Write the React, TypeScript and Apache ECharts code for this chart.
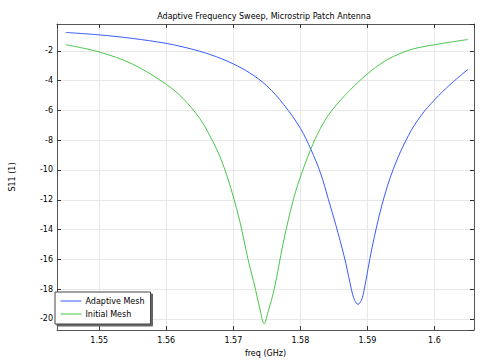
import React, { useEffect, useRef } from "react";
import * as echarts from "echarts";

const title = "Adaptive Frequency Sweep, Microstrip Patch Antenna";
const xName = "freq (GHz)";
const yName = "S11 (1)";
const seriesNames = ["Adaptive Mesh", "Initial Mesh"];

const freqAdaptive = [
  1.545, 1.55, 1.555, 1.56, 1.5625, 1.565, 1.5675, 1.57, 1.5725, 1.575, 1.5775, 1.58,
  1.5816, 1.583, 1.5842, 1.5856, 1.5868, 1.5876, 1.5881, 1.5886, 1.5891, 1.5895,
  1.5907, 1.5922, 1.5939, 1.5961, 1.598, 1.6, 1.6025, 1.605,
];
const s11Adaptive = [
  -0.77, -0.93, -1.17, -1.5, -1.74, -2.03, -2.4, -2.88, -3.5, -4.35, -5.6, -7.2,
  -8.65, -10.2, -12.0, -14.2, -16.3, -18.0, -18.75, -19.02, -18.75, -18.07,
  -15.2, -12.3, -9.9, -7.7, -6.35, -5.3, -4.2, -3.25,
];

const freqInitial = [
  1.545, 1.55, 1.555, 1.56, 1.5625, 1.565, 1.5665, 1.568, 1.5692, 1.57, 1.571, 1.5722,
  1.5733, 1.574, 1.5746, 1.5752, 1.5761, 1.5774, 1.5785, 1.5796, 1.5816, 1.583,
  1.5847, 1.5875, 1.59, 1.5925, 1.5953, 1.5975, 1.6, 1.6025, 1.605,
];
const s11Initial = [
  -1.59, -2.08, -2.9, -4.25, -5.2, -6.55, -7.7, -9.1, -10.6, -11.8, -13.5, -16.0,
  -18.0, -19.4, -20.33, -19.5, -18.0, -15.0, -12.8, -11.0, -8.56, -7.2,
  -6.0, -4.6, -3.55, -2.72, -2.1, -1.8, -1.59, -1.41, -1.24,
];

const colors = ["#3a5cff", "#4cc64c"];

const X_MIN = 1.5437;
const X_MAX = 1.6059;
const Y_MIN = -20.75;
const Y_MAX = -0.2;

export default function App() {
  const ref = useRef<HTMLDivElement>(null);
  useEffect(() => {
    if (!ref.current) return;
    const chart = echarts.init(ref.current, null, { renderer: "svg" });
    const font = "DejaVu Sans";
    const frame = { show: true, onZero: false, lineStyle: { color: "#555", width: 1 } };
    const tick = { show: true, inside: true, length: 4, lineStyle: { color: "#333" } };
    const split = { show: true, lineStyle: { color: "#e8e8e8", width: 1 } };
    chart.setOption({
      animation: false,
      backgroundColor: "#fff",
      textStyle: { fontFamily: font },
      title: {
        text: title,
        left: 259,
        top: 7,
        textAlign: "center",
        textStyle: { fontFamily: font, fontSize: 8, fontWeight: "normal", color: "#000" },
      },
      grid: { left: 45, right: 8, top: 24, bottom: 27, containLabel: false },
      legend: {
        orient: "vertical",
        left: 55,
        top: 292,
        padding: [5, 6, 6, 5],
        itemWidth: 21,
        itemHeight: 10,
        itemGap: 5,
        borderColor: "#444",
        borderWidth: 1,
        backgroundColor: "#fff",
        shadowColor: "#666",
        shadowOffsetX: 2,
        shadowOffsetY: 2,
        shadowBlur: 0,
        itemStyle: { opacity: 0 },
        lineStyle: { width: 1 },
        textStyle: { fontFamily: font, fontSize: 8, color: "#000", padding: [0, 0, 0, -1] },
        data: seriesNames,
      },
      xAxis: [
        {
          type: "value",
          min: X_MIN,
          max: X_MAX,
          splitNumber: 6,
          position: "bottom",
          name: xName,
          nameLocation: "middle",
          nameGap: 13,
          nameTextStyle: { fontFamily: font, fontSize: 8, color: "#000" },
          axisLine: frame,
          axisTick: tick,
          splitLine: split,
          axisLabel: {
            fontFamily: font,
            fontSize: 8,
            color: "#000",
            margin: 6,
            showMinLabel: false,
            showMaxLabel: false,
          },
        },
        {
          type: "value",
          min: X_MIN,
          max: X_MAX,
          splitNumber: 6,
          position: "top",
          axisLine: frame,
          axisTick: tick,
          splitLine: { show: false },
          axisLabel: { show: false },
        },
      ],
      yAxis: [
        {
          type: "value",
          min: Y_MIN,
          max: Y_MAX,
          splitNumber: 10,
          position: "left",
          name: yName,
          nameLocation: "middle",
          nameGap: 41,
          nameRotate: 90,
          nameTextStyle: { fontFamily: font, fontSize: 8, color: "#000" },
          axisLine: frame,
          axisTick: tick,
          splitLine: split,
          axisLabel: {
            fontFamily: font,
            fontSize: 8,
            color: "#000",
            margin: 4,
            showMinLabel: false,
            showMaxLabel: false,
          },
        },
        {
          type: "value",
          min: Y_MIN,
          max: Y_MAX,
          splitNumber: 10,
          position: "right",
          axisLine: frame,
          axisTick: tick,
          splitLine: { show: false },
          axisLabel: { show: false },
        },
      ],
      series: [
        {
          name: seriesNames[0],
          type: "line",
          xAxisIndex: 0,
          yAxisIndex: 0,
          symbol: "none",
          smooth: 0.35,
          lineStyle: { color: colors[0], width: 1 },
          itemStyle: { color: colors[0] },
          data: freqAdaptive.map((f, i) => [f, s11Adaptive[i]]),
        },
        {
          name: seriesNames[1],
          type: "line",
          xAxisIndex: 0,
          yAxisIndex: 0,
          symbol: "none",
          smooth: 0.35,
          lineStyle: { color: colors[1], width: 1 },
          itemStyle: { color: colors[1] },
          data: freqInitial.map((f, i) => [f, s11Initial[i]]),
        },
      ],
    });
    return () => chart.dispose();
  }, []);
  return (
    <div
      ref={ref}
      style={{ position: "fixed", left: 0, top: 0, width: 482, height: 362, background: "#fff" }}
    />
  );
}
